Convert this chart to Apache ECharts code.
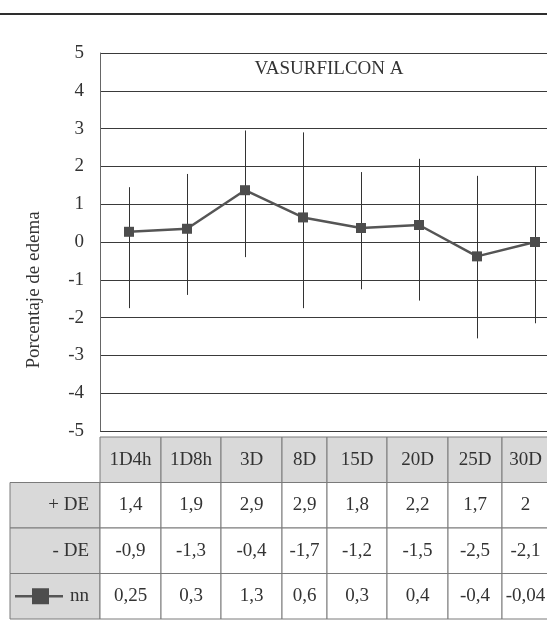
<!DOCTYPE html>
<html>
<head>
<meta charset="utf-8">
<script src="https://cdn.jsdelivr.net/npm/echarts@6/dist/echarts.min.js"></script>
<style>
html,body{margin:0;padding:0;background:#fff;}
#main{width:547px;height:631px;}
</style>
</head>
<body>
<div id="main"></div>
<script>
// ---- data ----
const categories = ['1D4h', '1D8h', '3D', '8D', '15D', '20D', '25D', '30D'];
const nnPlotted = [0.27, 0.35, 1.37, 0.65, 0.37, 0.45, -0.38, 0.0];
const barUpper = [1.45, 1.8, 2.95, 2.9, 1.85, 2.2, 1.75, 2.0];
const barLower = [-1.75, -1.4, -0.4, -1.75, -1.25, -1.55, -2.55, -2.15];
const tablePlusDE = ['1,4', '1,9', '2,9', '2,9', '1,8', '2,2', '1,7', '2'];
const tableMinusDE = ['-0,9', '-1,3', '-0,4', '-1,7', '-1,2', '-1,5', '-2,5', '-2,1'];
const tableNN = ['0,25', '0,3', '1,3', '0,6', '0,3', '0,4', '-0,4', '-0,04'];
const rowLabels = ['', '+ DE', '- DE', 'nn'];
const yMin = -5, yMax = 5, yInterval = 1;
const titleText = 'VASURFILCON A';
const yAxisTitle = 'Porcentaje de edema';

// ---- layout (not data) ----
const FONT = 'Liberation Serif';
const FS = 19;
const colEdges = [10, 100, 161, 221, 282, 327, 387, 448, 502, 549];

// build table cells
const tableRows = [categories, tablePlusDE, tableMinusDE, tableNN];
const cells = [];
for (let r = 0; r < 4; r++) {
  for (let c = 0; c <= categories.length; c++) {
    if (r === 0 && c === 0) continue;
    const text = c === 0 ? rowLabels[r] : tableRows[r][c - 1];
    cells.push({ value: [c, r], text: text });
  }
}

const errData = categories.map((c, i) => [i, barLower[i], barUpper[i]]);

const chart = echarts.init(document.getElementById('main'), null, { renderer: 'canvas' });

function renderErr(params, api) {
  const i = api.value(0);
  const p1 = api.coord([i, api.value(1)]);
  const p2 = api.coord([i, api.value(2)]);
  const x = Math.round(p1[0]) + 0.5;
  return {
    type: 'line',
    shape: { x1: x, y1: p1[1], x2: x, y2: p2[1] },
    style: { stroke: '#333', lineWidth: 1 }
  };
}

function txt(text, x, y, align) {
  return {
    type: 'text',
    style: { text: text, x: x, y: y, align: align, verticalAlign: 'middle',
      fontFamily: FONT, fontSize: FS, fill: '#333' }
  };
}

function renderCell(params, api) {
  const cell = cells[params.dataIndex];
  const col = api.value(0), row = api.value(1);
  const yc = api.coord([0, row])[1];
  const h = api.size([0, 1])[1];
  const x0 = api.coord([colEdges[col], row])[0];
  const x1 = api.coord([colEdges[col + 1], row])[0];
  const y0 = yc - h / 2;
  const gray = (row === 0 || col === 0);
  const children = [{
    type: 'rect',
    shape: { x: x0, y: y0, width: x1 - x0, height: h },
    style: { fill: gray ? '#d9d9d9' : '#ffffff', stroke: '#7a7a7a', lineWidth: 1 }
  }];
  if (col === 0) {
    children.push(txt(cell.text, x1 - 11, yc, 'right'));
    if (row === 3) {
      children.push({
        type: 'line',
        shape: { x1: x0 + 5, y1: yc, x2: x0 + 53, y2: yc },
        style: { stroke: '#555', lineWidth: 2.5 }
      });
      children.push({
        type: 'rect',
        shape: { x: x0 + 22, y: yc - 8, width: 17, height: 16 },
        style: { fill: '#4d4d4d' }
      });
    }
  } else {
    children.push(txt(cell.text, (x0 + x1) / 2, yc, 'center'));
  }
  return { type: 'group', children: children };
}

const option = {
  backgroundColor: '#fff',
  animation: false,
  title: {
    text: titleText,
    left: 329, top: 60, textAlign: 'center', padding: 0,
    textStyle: { fontFamily: FONT, fontSize: 19, fontWeight: 'normal', color: '#333' }
  },
  grid: [
    { left: 100, top: 53, width: 464, height: 378, outerBoundsMode: 'none', containLabel: false },
    { left: 0, top: 437, width: 547, height: 182, outerBoundsMode: 'none', containLabel: false }
  ],
  xAxis: [
    { gridIndex: 0, type: 'category', data: categories, boundaryGap: true,
      axisLine: { show: false }, axisTick: { show: false }, axisLabel: { show: false }, splitLine: { show: false } },
    { gridIndex: 1, type: 'value', min: 0, max: 547, show: false }
  ],
  yAxis: [
    { gridIndex: 0, type: 'value', min: yMin, max: yMax, interval: yInterval,
      axisLine: { show: true, lineStyle: { color: '#666', width: 1 } },
      axisTick: { show: false },
      axisLabel: { margin: 16, color: '#333', fontFamily: FONT, fontSize: FS },
      splitLine: { show: true, lineStyle: { color: '#3a3a3a', width: 1 } } },
    { gridIndex: 1, type: 'category', data: rowLabels.map((l, i) => 'r' + i), inverse: true, show: false }
  ],
  graphic: [
    { type: 'line', shape: { x1: 0, y1: 14, x2: 547, y2: 14 }, style: { stroke: '#2e2e2e', lineWidth: 2 } },
    { type: 'text', x: 34, y: 290, rotation: Math.PI / 2,
      style: { text: yAxisTitle, align: 'center', verticalAlign: 'middle',
        fontFamily: FONT, fontSize: FS, fill: '#333' } }
  ],
  series: [
    { type: 'custom', xAxisIndex: 0, yAxisIndex: 0, data: errData, renderItem: renderErr, z: 2 },
    { type: 'line', xAxisIndex: 0, yAxisIndex: 0, data: nnPlotted, symbol: 'rect', symbolSize: 10,
      itemStyle: { color: '#4d4d4d' }, lineStyle: { color: '#555', width: 2.5 }, z: 3 },
    { type: 'custom', xAxisIndex: 1, yAxisIndex: 1, data: cells, renderItem: renderCell, z: 2 }
  ]
};
chart.setOption(option);
</script>
</body>
</html>
